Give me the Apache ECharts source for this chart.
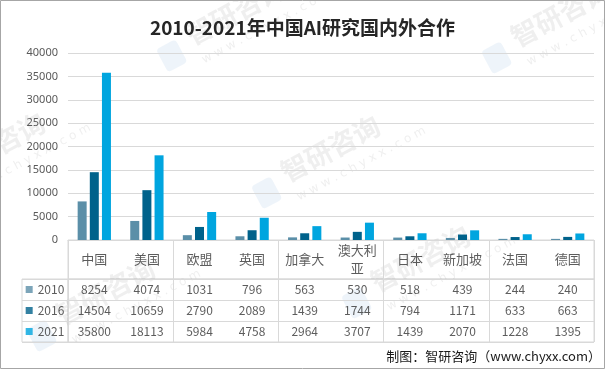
<!DOCTYPE html>
<html>
<head>
<meta charset="utf-8">
<script src="https://cdn.jsdelivr.net/npm/echarts@6/dist/echarts.min.js"></script>
<style>
html,body{margin:0;padding:0;background:#fff;}
#c{width:605px;height:369px;}
</style>
</head>
<body>
<div id="c"></div>
<script>
const titleText = '2010-2021年中国AI研究国内外合作';
const sourceText = '制图：智研咨询（www.chyxx.com）';
const categories = ['中国','美国','欧盟','英国','加拿大','澳大利亚','日本','新加坡','法国','德国'];
const years = ['2010','2016','2021'];
const v2010 = [8254,4074,1031,796,563,530,518,439,244,240];
const v2016 = [14504,10659,2790,2089,1439,1744,794,1171,633,663];
const v2021 = [35800,18113,5984,4758,2964,3707,1439,2070,1228,1395];
const yTicks = [0,5000,10000,15000,20000,25000,30000,35000,40000];
const colors = ['#5b8fa8','#00628b','#00a5df'];

const seriesValues = [v2010, v2016, v2021];
const cjk = '"Microsoft YaHei","Noto Sans CJK SC",sans-serif';
const lineCol = '#d9d9d9';
const textCol = '#333333';

const chart = echarts.init(document.getElementById('c'));

const xAxes = [
  {type:'category', gridIndex:0, data:categories, boundaryGap:true,
   axisLine:{show:true, lineStyle:{color:lineCol}}, axisTick:{show:false}, axisLabel:{show:false}},
  {type:'category', gridIndex:1, data:categories, boundaryGap:true,
   axisLine:{show:false}, axisTick:{show:false}, axisLabel:{show:false},
   splitLine:{show:true, lineStyle:{color:lineCol}}},
  {type:'category', gridIndex:2, data:categories, boundaryGap:true,
   axisLine:{show:false}, axisTick:{show:false}, axisLabel:{show:false},
   splitLine:{show:true, lineStyle:{color:lineCol}}},
  {type:'category', gridIndex:3, data:['L'], boundaryGap:true,
   axisLine:{show:false}, axisTick:{show:false}, axisLabel:{show:false},
   splitLine:{show:false}}
];
const yAxes = [
  {type:'value', gridIndex:0, min:0, max:40000, interval:5000,
   axisLine:{show:false}, axisTick:{show:false},
   axisLabel:{color:'#595959', fontSize:11, margin:10, fontFamily:'"Noto Sans",sans-serif',
     formatter: v => yTicks.includes(v) ? String(v) : ''},
   splitLine:{lineStyle:{color:lineCol}}},
  {type:'category', gridIndex:1, data:['H'], boundaryGap:true,
   axisLine:{show:false}, axisTick:{show:false}, axisLabel:{show:false}, splitLine:{show:false}},
  {type:'category', gridIndex:2, data:years, inverse:true, boundaryGap:true,
   axisLine:{show:false}, axisTick:{show:false}, axisLabel:{show:false},
   splitLine:{show:true, lineStyle:{color:lineCol}}},
  {type:'category', gridIndex:3, data:years, inverse:true, boundaryGap:true,
   axisLine:{show:false}, axisTick:{show:false}, axisLabel:{show:false},
   splitLine:{show:true, lineStyle:{color:lineCol}}}
];

const grids = [
  {left:68, top:53, width:526, height:187},
  {left:68, top:240, width:526, height:39, show:true, borderColor:lineCol, borderWidth:1, backgroundColor:'transparent'},
  {left:68, top:279, width:526, height:63, show:true, borderColor:lineCol, borderWidth:1, backgroundColor:'transparent'},
  {left:22, top:279, width:46, height:63, show:true, borderColor:lineCol, borderWidth:1, backgroundColor:'transparent'}
];

const series = [];
years.forEach((y, i) => {
  series.push({
    name:y, type:'bar', xAxisIndex:0, yAxisIndex:0,
    data: seriesValues[i], barWidth:9, barGap:'35%',
    itemStyle:{color:colors[i]}, silent:true
  });
});

const hiddenSym = {symbolSize:1, itemStyle:{color:'rgba(0,0,0,0)'}, silent:true, z:5};

series.push(Object.assign({
  type:'scatter', xAxisIndex:1, yAxisIndex:1,
  data: categories.map(c => [c, 'H']),
  label:{show:true, position:'inside', color:textCol, fontSize:13, fontFamily:cjk,
         width:42, overflow:'break', lineHeight:18, align:'center', verticalAlign:'middle',
         formatter: p => p.value[0]}
}, hiddenSym));

years.forEach((y, i) => {
  series.push(Object.assign({
    type:'scatter', xAxisIndex:2, yAxisIndex:2,
    data: categories.map((c, j) => [c, y, seriesValues[i][j]]),
    label:{show:true, position:'inside', color:textCol, fontSize:12, fontFamily:cjk,
           formatter: p => String(p.value[2])}
  }, hiddenSym));
  series.push(Object.assign({
    type:'scatter', xAxisIndex:3, yAxisIndex:3,
    data: [['L', y]],
    label:{show:true, position:'inside', color:textCol, fontSize:12, fontFamily:cjk,
           formatter: p => '{sq|}{t|' + p.value[1] + '}',
           rich:{sq:{width:7, height:7, backgroundColor:colors[i]},
                 t:{padding:[0,0,0,5], fontSize:12, color:textCol, fontFamily:cjk}}}
  }, hiddenSym));
});

function watermark(cx, cy) {
  return {
    type:'group', x:cx, y:cy, rotation:0.49, silent:true, z:100,
    children:[
      {type:'text', x:-28, y:-16, style:{text:'智研咨询', fontSize:27, fontWeight:'bold', fontFamily:cjk,
        fill:'rgba(120,120,120,0.12)', align:'left', verticalAlign:'middle'}},
      {type:'text', x:-26, y:12, style:{text:'w w w . c h y x x . c o m', fontSize:12, fontFamily:'"DejaVu Sans",sans-serif',
        fill:'rgba(120,120,120,0.12)', align:'left', verticalAlign:'middle'}},
      {type:'rect', shape:{x:-62, y:-20, width:22, height:26, r:4}, style:{fill:'rgba(90,150,210,0.10)'}}
    ]
  };
}

chart.setOption({
  animation:false,
  backgroundColor:'#fff',
  title:{text:titleText, left:'center', top:13,
    textStyle:{fontSize:19, fontWeight:'bold', color:'#262626', fontFamily:cjk}},
  grid:grids,
  xAxis:xAxes,
  yAxis:yAxes,
  series:series,
  graphic:[
    {type:'rect', shape:{x:0.5, y:0.5, width:604, height:368}, style:{fill:'none', stroke:'#a6a6a6', lineWidth:1}, silent:true, z:100},
    {type:'text', right:4, top:350, style:{text:sourceText, fontSize:13, fill:'#1a1a1a', fontFamily:cjk}, silent:true},
    watermark(220, 38),
    watermark(545, 40),
    watermark(315, 175),
    watermark(-20, 172),
    watermark(90, 318),
    watermark(405, 285)
  ]
});
</script>
</body>
</html>
